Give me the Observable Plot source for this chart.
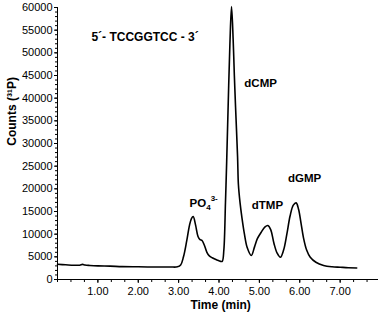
<!DOCTYPE html>
<html>
<head>
<meta charset="utf-8">
<script src="https://cdn.jsdelivr.net/npm/d3@7"></script>
<script src="https://cdn.jsdelivr.net/npm/@observablehq/plot@0.6"></script>
<style>
  html, body { margin: 0; padding: 0; background: #fff; }
  #chart svg { display: block; }
</style>
</head>
<body>
<div id="chart"></div>
<script>
// Chromatogram trace (time in min, counts of 31P)
const times = [0.00, 0.20, 0.40, 0.55, 0.62, 0.68, 0.80, 1.00, 1.30, 1.60, 2.00, 2.40, 2.80, 2.97,
  3.05, 3.12, 3.20, 3.27, 3.32, 3.36, 3.42, 3.48, 3.53, 3.58, 3.64, 3.70, 3.76, 3.83, 3.95, 4.04,
  4.08, 4.12, 4.16, 4.19, 4.23, 4.27, 4.31, 4.35, 4.38, 4.41, 4.46, 4.48, 4.52, 4.57, 4.63, 4.70,
  4.80, 4.88, 4.95, 5.05, 5.14, 5.21, 5.28, 5.36, 5.44, 5.52, 5.60, 5.68, 5.76, 5.84, 5.91, 5.97,
  6.03, 6.09, 6.17, 6.26, 6.40, 6.59, 6.80, 7.00, 7.20, 7.41];
const counts = [3350, 3250, 3150, 3150, 3330, 3200, 3100, 3000, 2950, 2850, 2800, 2750, 2750, 2800,
  3200, 5000, 8500, 12000, 13500, 13900, 12000, 9500, 8800, 8600, 7500, 6000, 5200, 4800, 4300, 4000,
  4000, 6500, 17000, 26000, 39500, 52000, 60200, 53000, 45000, 38000, 27000, 21000, 17000, 13500, 10000, 7000,
  5300, 7200, 9000, 10500, 11600, 11900, 11000, 8000, 5800, 4900, 6500, 10000, 14000, 16400, 16900, 15500,
  12500, 9300, 6500, 4900, 3800, 3100, 2800, 2700, 2600, 2550];

// Peak labels
const peakNames = ["PO\u2084\u00B3\u207B", "dCMP", "dTMP", "dGMP"];
const peakTimes = [3.62, 5.03, 5.20, 6.12];
const peakCounts = [16800, 43200, 16300, 22300];

// Sequence annotation
const seqText = ["5\u00B4- TCCGGTCC - 3\u00B4"];
const seqTime = [0.84];
const seqCount = [53400];

// Axis ticks
const xTickValues = [1, 2, 3, 4, 5, 6, 7];
const xTickLabels = ["1.00", "2.00", "3.00", "4.00", "5.00", "6.00", "7.00"];
const xMinorTicks = d3.range(0, 24).map(i => i / 3);
const yTickValues = d3.range(0, 60001, 5000);
const yMinorTicks = d3.range(0, 60001, 1000);

const trace = times.map((t, i) => ({t, c: counts[i]}));
const peaks = peakNames.map((n, i) => ({n, t: peakTimes[i], c: peakCounts[i]}));
const seq = seqText.map((n, i) => ({n, t: seqTime[i], c: seqCount[i]}));

const font = "'Liberation Sans', Arial, Helvetica, sans-serif";

const chart = Plot.plot({
  width: 380,
  height: 312,
  marginLeft: 57,
  marginRight: 2,
  marginTop: 7,
  marginBottom: 33,
  style: {fontFamily: font, fontSize: "11px", color: "#000", background: "#fff"},
  x: {type: "linear", domain: [0, 7.95], label: null},
  y: {type: "linear", domain: [0, 60000], label: null},
  marks: [
    // axis lines
    Plot.ruleY([0], {stroke: "#000", strokeWidth: 1}),
    Plot.ruleX([0], {stroke: "#000", strokeWidth: 1}),
    // minor ticks
    Plot.axisX({ticks: xMinorTicks, tickSize: 3, tickFormat: () => "", label: null}),
    Plot.axisY({ticks: yMinorTicks, tickSize: 2, tickFormat: () => "", label: null}),
    // major ticks & labels
    Plot.axisX({ticks: xTickValues, tickSize: 4, tickPadding: 4, tickFormat: (d, i) => xTickLabels[i],
      fontSize: 11, label: null}),
    Plot.axisY({ticks: yTickValues, tickSize: 3, tickPadding: 2, tickFormat: d => String(d),
      fontSize: 11, label: null}),
    // trace
    Plot.line(trace, {x: "t", y: "c", stroke: "#000", strokeWidth: 1.6, curve: "catmull-rom"}),
    // labels
    Plot.text(peaks, {x: "t", y: "c", text: "n", fontWeight: "bold", fontSize: 11.5, fill: "#000"}),
    Plot.text(seq, {x: "t", y: "c", text: "n", fontWeight: "bold", fontSize: 12, textAnchor: "start", fill: "#000"}),
    // axis titles
    Plot.text(["Time (min)"], {frameAnchor: "bottom", dy: 29, x: [4.04], text: d => d, fontWeight: "bold", fontSize: 12, fill: "#000"}),
    Plot.text(["Counts (\u00B3\u00B9P)"], {frameAnchor: "left", dx: -45, y: [29500], rotate: -90, text: d => d, fontWeight: "bold", fontSize: 12, fill: "#000"})
  ]
});

// Render the phosphate label with true subscript / superscript
d3.select(chart).selectAll("text").each(function () {
  if (this.textContent === peakNames[0]) {
    const t = d3.select(this);
    t.text(null);
    t.append("tspan").text("PO");
    t.append("tspan").attr("dy", "3").attr("font-size", "8").text("4");
    t.append("tspan").attr("dy", "-9").attr("font-size", "8").text("3-");
  }
});
document.getElementById("chart").appendChild(chart);
</script>
</body>
</html>
